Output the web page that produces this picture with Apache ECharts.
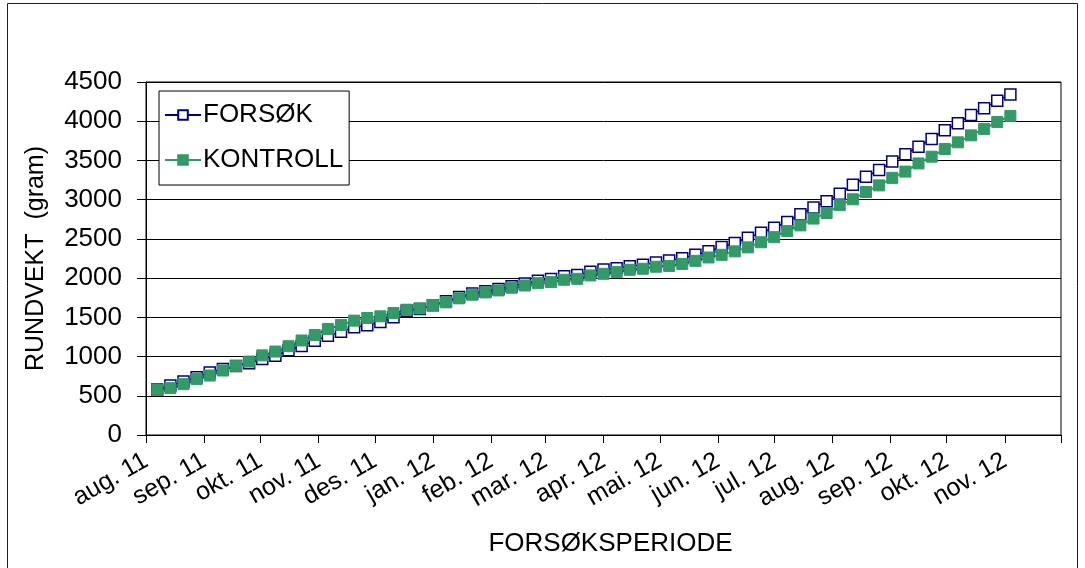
<!DOCTYPE html>
<html>
<head>
<meta charset="utf-8">
<title>Rundvekt forsøksperiode</title>
<script src="https://cdn.jsdelivr.net/npm/echarts@6/dist/echarts.min.js"></script>
<style>
  html, body { margin: 0; padding: 0; background: #fff; }
  #chart { width: 1085px; height: 568px; }
</style>
</head>
<body>
<div id="chart"></div>
<script>
// ukentlige målinger (søndager) aug. 2011 - nov. 2012
const weeks = [
  '2011-08-07', '2011-08-14', '2011-08-21', '2011-08-28', '2011-09-04', '2011-09-11',
  '2011-09-18', '2011-09-25', '2011-10-02', '2011-10-09', '2011-10-16', '2011-10-23',
  '2011-10-30', '2011-11-06', '2011-11-13', '2011-11-20', '2011-11-27', '2011-12-04',
  '2011-12-11', '2011-12-18', '2011-12-25', '2012-01-01', '2012-01-08', '2012-01-15',
  '2012-01-22', '2012-01-29', '2012-02-05', '2012-02-12', '2012-02-19', '2012-02-26',
  '2012-03-04', '2012-03-11', '2012-03-18', '2012-03-25', '2012-04-01', '2012-04-08',
  '2012-04-15', '2012-04-22', '2012-04-29', '2012-05-06', '2012-05-13', '2012-05-20',
  '2012-05-27', '2012-06-03', '2012-06-10', '2012-06-17', '2012-06-24', '2012-07-01',
  '2012-07-08', '2012-07-15', '2012-07-22', '2012-07-29', '2012-08-05', '2012-08-12',
  '2012-08-19', '2012-08-26', '2012-09-02', '2012-09-09', '2012-09-16', '2012-09-23',
  '2012-09-30', '2012-10-07', '2012-10-14', '2012-10-21', '2012-10-28', '2012-11-04'
]

const forsok = [
  580, 630, 682, 737, 798, 842, 881, 916, 968, 1010, 1080, 1135, 1200,
  1265, 1315, 1375, 1400, 1440, 1500, 1585, 1605, 1655, 1705, 1760, 1805, 1832,
  1860, 1897, 1930, 1965, 1990, 2025, 2040, 2080, 2110, 2125, 2150, 2170, 2200,
  2224, 2254, 2297, 2341, 2397, 2448, 2513, 2578, 2642, 2716, 2815, 2901, 2980,
  3075, 3190, 3292, 3378, 3486, 3580, 3676, 3774, 3885, 3974, 4080, 4166, 4262, 4340
]

const kontroll = [
  576, 597, 648, 712, 758, 822, 881, 936, 1015, 1064, 1132, 1205, 1275,
  1352, 1403, 1458, 1492, 1513, 1555, 1597, 1614, 1657, 1691, 1742, 1788, 1818,
  1843, 1877, 1906, 1936, 1949, 1979, 1991, 2034, 2055, 2077, 2106, 2119, 2145,
  2155, 2181, 2220, 2263, 2297, 2341, 2392, 2457, 2522, 2599, 2672, 2759, 2830,
  2930, 3005, 3098, 3182, 3278, 3358, 3462, 3548, 3646, 3731, 3820, 3902, 3991, 4068
]

const monthNames = ['jan.', 'feb.', 'mar.', 'apr.', 'mai.', 'jun.', 'jul.', 'aug.', 'sep.', 'okt.', 'nov.', 'des.']
const lastLabel = '2012-11-01'

const FONT = 'Liberation Sans, Arial, sans-serif'

const chart = echarts.init(document.getElementById('chart'))

const option = {
  animation: false,
  backgroundColor: '#fff',
  textStyle: { fontFamily: FONT, color: '#000' },
  graphic: [
    {
      type: 'rect',
      shape: { x: 7.5, y: 3.5, width: 1070, height: 570 },
      style: { fill: 'none', stroke: '#1a1a4a', lineWidth: 1 },
      silent: true
    }
  ],
  legend: {
    orient: 'vertical',
    left: 159,
    top: 91,
    padding: [11, 6, 12, 5],
    itemWidth: 36,
    itemHeight: 12,
    itemGap: 19,
    borderColor: '#000',
    borderWidth: 1,
    backgroundColor: '#fff',
    textStyle: { fontFamily: FONT, fontSize: 26, color: '#000', padding: [0, 0, 0, -3] },
    data: ['FORSØK', 'KONTROLL']
  },
  grid: {
    left: 146,
    right: 24,
    top: 82,
    bottom: 133,
    show: true,
    borderColor: '#000',
    borderWidth: 1,
    containLabel: false
  },
  xAxis: {
    type: 'time',
    min: '2011-08-01',
    max: '2012-12-01',
    splitNumber: 16,
    minInterval: 28 * 86400000,
    maxInterval: 31 * 86400000,
    name: 'FORSØKSPERIODE',
    nameLocation: 'middle',
    nameGap: 96,
    nameTextStyle: { fontFamily: FONT, fontSize: 26, color: '#000', padding: [0, 0, 0, 14] },
    axisLine: { lineStyle: { color: '#000', width: 1 } },
    axisTick: { show: true, length: 8, lineStyle: { color: '#000' } },
    minorTick: { show: false },
    splitLine: { show: false },
    axisLabel: {
      rotate: 30,
      margin: 24,
      interval: 0,
      fontFamily: FONT,
      fontSize: 25,
      color: '#000',
      hideOverlap: false,
      formatter: function (value) {
        const d = new Date(value)
        if (d.getTime() > new Date(lastLabel + 'T00:00:00').getTime()) return ''
        return monthNames[d.getMonth()] + ' ' + String(d.getFullYear()).slice(2)
      }
    }
  },
  yAxis: {
    type: 'value',
    min: 0,
    max: 4500,
    interval: 500,
    name: 'RUNDVEKT  (gram)',
    nameLocation: 'middle',
    nameRotate: 90,
    nameGap: 97,
    nameTextStyle: { fontFamily: FONT, fontSize: 25, color: '#000' },
    axisLine: { show: true, lineStyle: { color: '#000', width: 1 } },
    axisTick: { show: true, length: 9, lineStyle: { color: '#000' } },
    splitLine: { lineStyle: { color: '#000', width: 1 } },
    axisLabel: {
      margin: 24,
      fontFamily: FONT,
      fontSize: 26,
      color: '#000',
      formatter: function (v) { return String(v) }
    }
  },
  series: [
    {
      name: 'FORSØK',
      type: 'line',
      data: weeks.map((w, i) => [w, forsok[i]]),
      symbol: 'rect',
      symbolSize: 11,
      showAllSymbol: true,
      lineStyle: { color: '#000080', width: 1.5 },
      itemStyle: { color: '#fff', borderColor: '#000080', borderWidth: 1.5 },
      emphasis: { disabled: true }
    },
    {
      name: 'KONTROLL',
      type: 'line',
      data: weeks.map((w, i) => [w, kontroll[i]]),
      symbol: 'rect',
      symbolSize: 11,
      showAllSymbol: true,
      lineStyle: { color: '#339966', width: 2 },
      itemStyle: { color: '#339966', borderColor: '#339966', borderWidth: 1 },
      emphasis: { disabled: true }
    }
  ]
}

chart.setOption(option)
</script>
</body>
</html>
